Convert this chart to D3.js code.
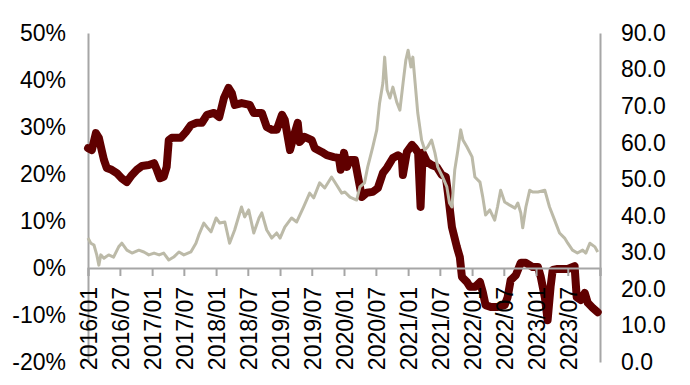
<!DOCTYPE html>
<html>
<head>
<meta charset="utf-8">
<script src="https://cdn.jsdelivr.net/npm/d3@7"></script>
<style>
  body { margin: 0; background: #fff; }
  svg text { font-family: "Liberation Sans", Arial, sans-serif; fill: #000; }
</style>
</head>
<body>
<div id="chart"></div>
<script>
// thick dark line, left axis (%)
const redSeries = [
  ["2016-01-01",25.5],["2016-01-23",25.1],["2016-02-15",28.7],["2016-03-03",27.7],["2016-03-19",25.1],
  ["2016-04-01",23.0],["2016-04-17",21.3],["2016-05-15",20.9],["2016-06-13",20.2],["2016-07-11",19.1],
  ["2016-08-09",18.3],["2016-09-08",19.8],["2016-10-06",20.9],["2016-11-04",21.7],["2016-12-13",21.9],
  ["2017-01-12",22.3],["2017-01-28",20.9],["2017-02-15",19.1],["2017-03-08",19.4],["2017-03-25",21.5],
  ["2017-04-06",27.2],["2017-04-23",27.7],["2017-06-13",27.7],["2017-07-12",28.9],["2017-08-10",30.4],
  ["2017-09-13",30.9],["2017-10-12",30.9],["2017-11-10",32.6],["2017-12-20",33.0],["2018-01-19",32.1],
  ["2018-02-15",36.2],["2018-03-13",38.3],["2018-04-01",37.2],["2018-04-18",34.7],["2018-05-27",35.1],
  ["2018-07-12",34.7],["2018-08-04",33.0],["2018-09-19",33.0],["2018-10-17",30.0],["2018-11-15",29.4],
  ["2018-12-13",29.4],["2019-01-12",32.6],["2019-01-28",31.5],["2019-02-27",25.1],["2019-03-19",27.9],
  ["2019-04-12",30.9],["2019-04-23",26.8],["2019-05-21",27.9],["2019-07-01",27.2],["2019-07-18",25.5],
  ["2019-08-27",24.7],["2019-09-25",24.0],["2019-11-04",23.6],["2019-12-03",23.4],["2019-12-13",20.9],
  ["2020-01-01",24.5],["2020-01-18",21.5],["2020-02-04",23.0],["2020-03-03",23.0],["2020-03-19",19.8],
  ["2020-04-12",15.1],["2020-05-10",16.0],["2020-06-13",16.2],["2020-07-12",17.0],["2020-08-10",20.2],
  ["2020-09-02",21.3],["2020-10-06",23.4],["2020-11-04",24.0],["2020-11-26",23.4],["2020-12-02",19.8],
  ["2020-12-25",24.7],["2021-01-23",26.2],["2021-02-09",25.5],["2021-02-27",24.5],["2021-03-13",13.0],
  ["2021-03-25",24.5],["2021-04-18",22.6],["2021-05-15",21.9],["2021-06-13",21.5],["2021-07-12",19.8],
  ["2021-08-04",19.4],["2021-08-16",16.0],["2021-09-08",8.7],["2021-10-06",4.5],["2021-10-23",2.3],
  ["2021-11-04",-1.9],["2021-12-03",-3.0],["2021-12-19",-4.0],["2022-01-18",-4.0],["2022-02-15",-3.0],
  ["2022-03-03",-5.1],["2022-03-19",-7.9],["2022-04-18",-8.3],["2022-05-27",-8.3],["2022-07-06",-7.9],
  ["2022-07-23",-6.2],["2022-08-09",-2.6],["2022-09-08",-1.5],["2022-10-06",1.1],["2022-11-04",1.1],
  ["2022-12-13",0.2],["2023-01-12",0.2],["2023-01-28",-1.9],["2023-02-20",-6.2],["2023-03-08",-11.1],
  ["2023-03-25",-4.0],["2023-04-06",-0.4],["2023-05-04",-0.2],["2023-07-01",-0.2],["2023-08-09",0.4],
  ["2023-08-21",-6.2],["2023-09-13",-6.8],["2023-10-06",-5.3],["2023-10-23",-7.4],["2023-11-21",-8.5],
  ["2023-12-19",-9.4]
];

// thin grey line, right axis
const graySeries = [
  ["2016-01-01",33.9],["2016-01-17",32.5],["2016-02-04",32.0],["2016-02-20",29.3],["2016-03-03",26.5],
  ["2016-03-14",29.3],["2016-04-01",28.4],["2016-04-28",29.3],["2016-05-26",28.7],["2016-06-24",31.5],
  ["2016-07-12",32.5],["2016-08-10",30.6],["2016-09-08",29.8],["2016-10-17",30.6],["2016-11-15",30.1],
  ["2016-12-13",29.3],["2017-01-12",29.8],["2017-02-10",29.3],["2017-03-08",29.8],["2017-04-06",27.9],
  ["2017-05-04",28.7],["2017-06-03",30.1],["2017-07-01",29.3],["2017-08-10",30.1],["2017-09-08",32.5],
  ["2017-09-24",34.7],["2017-10-23",38.0],["2017-11-10",36.9],["2017-12-03",35.6],["2018-01-01",39.4],
  ["2018-01-22",38.0],["2018-02-20",38.3],["2018-03-19",32.5],["2018-04-17",36.1],["2018-05-26",42.4],
  ["2018-06-13",39.7],["2018-07-06",41.6],["2018-08-04",35.3],["2018-09-03",39.4],["2018-09-19",40.8],
  ["2018-10-17",36.1],["2018-11-15",33.9],["2018-12-13",35.3],["2019-01-01",33.9],["2019-01-28",36.9],
  ["2019-03-08",39.4],["2019-04-06",38.3],["2019-05-15",42.4],["2019-06-19",46.2],["2019-07-12",44.9],
  ["2019-08-15",49.0],["2019-09-13",47.6],["2019-10-22",50.6],["2019-11-20",48.4],["2019-12-19",46.2],
  ["2020-01-06",46.5],["2020-02-04",45.1],["2020-03-13",44.3],["2020-04-01",47.9],["2020-04-27",49.0],
  ["2020-05-15",53.3],["2020-06-13",58.8],["2020-07-06",63.5],["2020-07-22",70.8],["2020-08-10",76.3],
  ["2020-08-20",83.4],["2020-09-03",74.4],["2020-09-19",72.2],["2020-10-06",75.2],["2020-10-28",71.1],
  ["2020-11-15",68.9],["2020-12-03",76.3],["2020-12-19",82.6],["2021-01-01",85.3],["2021-01-17",80.7],
  ["2021-01-28",83.4],["2021-02-10",76.3],["2021-02-25",68.1],["2021-03-19",60.7],["2021-04-06",58.0],
  ["2021-04-22",58.8],["2021-05-15",60.7],["2021-06-03",57.2],["2021-06-19",53.3],["2021-07-17",50.6],
  ["2021-08-10",47.9],["2021-08-25",43.5],["2021-09-08",42.4],["2021-09-24",52.5],["2021-10-12",58.0],
  ["2021-10-28",63.5],["2021-11-10",60.7],["2021-12-03",58.8],["2022-01-01",56.1],["2022-01-17",50.6],
  ["2022-02-15",49.2],["2022-03-03",45.1],["2022-03-19",40.2],["2022-04-12",41.6],["2022-05-10",38.8],
  ["2022-05-26",42.4],["2022-06-13",47.0],["2022-07-06",43.8],["2022-08-04",42.9],["2022-09-03",42.1],
  ["2022-09-19",43.5],["2022-10-06",40.8],["2022-10-17",36.7],["2022-11-04",42.4],["2022-11-26",47.0],
  ["2022-12-13",46.5],["2023-01-12",46.5],["2023-02-20",47.0],["2023-03-19",42.4],["2023-04-17",38.8],
  ["2023-05-15",35.3],["2023-06-13",33.9],["2023-07-01",32.5],["2023-07-28",30.6],["2023-08-25",29.8],
  ["2023-09-24",30.6],["2023-10-12",29.8],["2023-11-04",32.5],["2023-12-03",31.5],["2023-12-19",30.1]
];

const leftTicks = [-20, -10, 0, 10, 20, 30, 40, 50];
const rightTicks = [0, 10, 20, 30, 40, 50, 60, 70, 80, 90];
const xStart = "2016-01-01", xEnd = "2024-01-01";

const width = 690, height = 385;
const margin = { left: 88, right: 90, top: 33, bottom: 23 };
const fontSize = 23;
const parse = d3.timeParse("%Y-%m-%d");

const svg = d3.select('#chart').append('svg')
    .attr('width', width)
    .attr('height', height);

const x = d3.scaleTime()
    .domain([parse(xStart), parse(xEnd)])
    .range([margin.left, width - margin.right]);
const yL = d3.scaleLinear()
    .domain([-20, 50])
    .range([height - margin.bottom, margin.top]);
const yR = d3.scaleLinear()
    .domain([0, 90])
    .range([height - margin.bottom, margin.top]);

const axisColor = '#a6a6a6';

// left / right axes: line + labels, no ticks
const gL = svg.append('g')
    .attr('transform', 'translate(' + margin.left + ',0)')
    .call(d3.axisLeft(yL).tickValues(leftTicks).tickSize(0).tickPadding(22)
        .tickFormat(d => d + '%'));
gL.select('.domain').attr('stroke', axisColor).attr('stroke-width', 2);

const gR = svg.append('g')
    .attr('transform', 'translate(' + (width - margin.right) + ',0)')
    .call(d3.axisRight(yR).tickValues(rightTicks).tickSize(0).tickPadding(21)
        .tickFormat(d3.format('.1f')));
gR.select('.domain').attr('stroke', axisColor).attr('stroke-width', 2);

[gL, gR].forEach(g => g.selectAll('text')
    .attr('font-size', fontSize)
    .style('font-family', '"Liberation Sans", Arial, sans-serif'));

// lines
const redLine = d3.line()
    .x(d => x(parse(d[0])))
    .y(d => yL(d[1]));
const grayLine = d3.line()
    .x(d => x(parse(d[0])))
    .y(d => yR(d[1]));

svg.append('path')
    .datum(redSeries)
    .attr('fill', 'none')
    .attr('stroke', '#600000')
    .attr('stroke-width', 8)
    .attr('stroke-linejoin', 'round')
    .attr('stroke-linecap', 'round')
    .attr('d', redLine);

svg.append('path')
    .datum(graySeries)
    .attr('fill', 'none')
    .attr('stroke', '#bcbaa8')
    .attr('stroke-width', 3)
    .attr('stroke-linejoin', 'round')
    .attr('d', grayLine);

// x axis sits on the 0% line
const xTicks = d3.timeMonth.every(6).range(parse(xStart), d3.timeDay.offset(parse(xEnd), 1));
const fmt = d3.timeFormat('%Y/%m');
const gX = svg.append('g')
    .attr('transform', 'translate(0,' + yL(0) + ')')
    .call(d3.axisBottom(x).tickValues(xTicks).tickSizeOuter(0).tickSize(8)
        .tickFormat((d, i) => i === xTicks.length - 1 ? '' : fmt(d)));
gX.select('.domain').attr('stroke', axisColor).attr('stroke-width', 2);
gX.selectAll('.tick line').attr('stroke', axisColor).attr('stroke-width', 2);
gX.selectAll('text')
    .attr('font-size', fontSize)
    .style('font-family', '"Liberation Sans", Arial, sans-serif')
    .attr('text-anchor', 'end')
    .attr('transform', 'rotate(-90)')
    .attr('x', -19)
    .attr('y', 0)
    .attr('dy', '0.36em');
</script>
</body>
</html>
